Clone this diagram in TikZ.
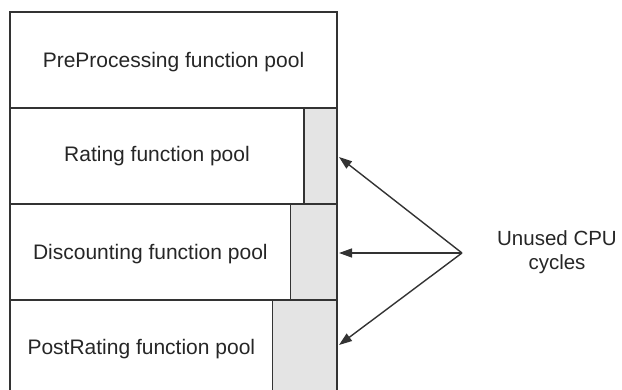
\documentclass[tikz,border=0pt]{standalone}
\usepackage{fontspec}
\setmainfont{Liberation Sans}
\usetikzlibrary{arrows.meta}
\definecolor{edge}{HTML}{333333}
\definecolor{unused}{HTML}{E4E4E4}
\begin{document}
\begin{tikzpicture}[x=1pt,y=-1pt,
  cell/.style={draw=edge,line width=1.5pt,rectangle,inner sep=0pt,outer sep=0pt,anchor=north west,
    font=\fontsize{21}{24}\selectfont,text=black!85},
  idle/.style={cell,fill=unused},
  arr/.style={draw=edge,line width=1.4pt,-{Triangle[length=13pt,width=9pt]}}]
\useasboundingbox (0,0) rectangle (622,390);
\clip (0,0) rectangle (622,390);
\node[cell,minimum width=327pt,minimum height=96pt,text depth=-2pt] (pre) at (10,12) {PreProcessing function pool};
\node[cell,minimum width=294pt,minimum height=96pt] (rat) at (10,108) {Rating function pool};
\node[idle,minimum width=33pt,minimum height=96pt] (ratu) at (304,108) {};
\node[cell,minimum width=280.7pt,minimum height=96pt,text depth=-1pt] (dis) at (10,204) {Discounting function pool};
\node[idle,minimum width=46.3pt,minimum height=96pt] (disu) at (290.7,204) {};
\node[cell,minimum width=262.7pt,minimum height=98pt] (post) at (10,300) {PostRating function pool};
\node[idle,minimum width=64.3pt,minimum height=98pt] (postu) at (272.7,300) {};
\node[font=\fontsize{20.5}{24}\selectfont,text=black!85,align=center] (lbl) at (557,252) {Unused CPU\\cycles};
\coordinate (src) at (462,253);
\coordinate (t1) at (339,157);
\coordinate (t2) at (339,253);
\coordinate (t3) at (339,345);
\draw[arr] (src) -- (t1);
\draw[arr] (src) -- (t2);
\draw[arr] (src) -- (t3);
\end{tikzpicture}
\end{document}
